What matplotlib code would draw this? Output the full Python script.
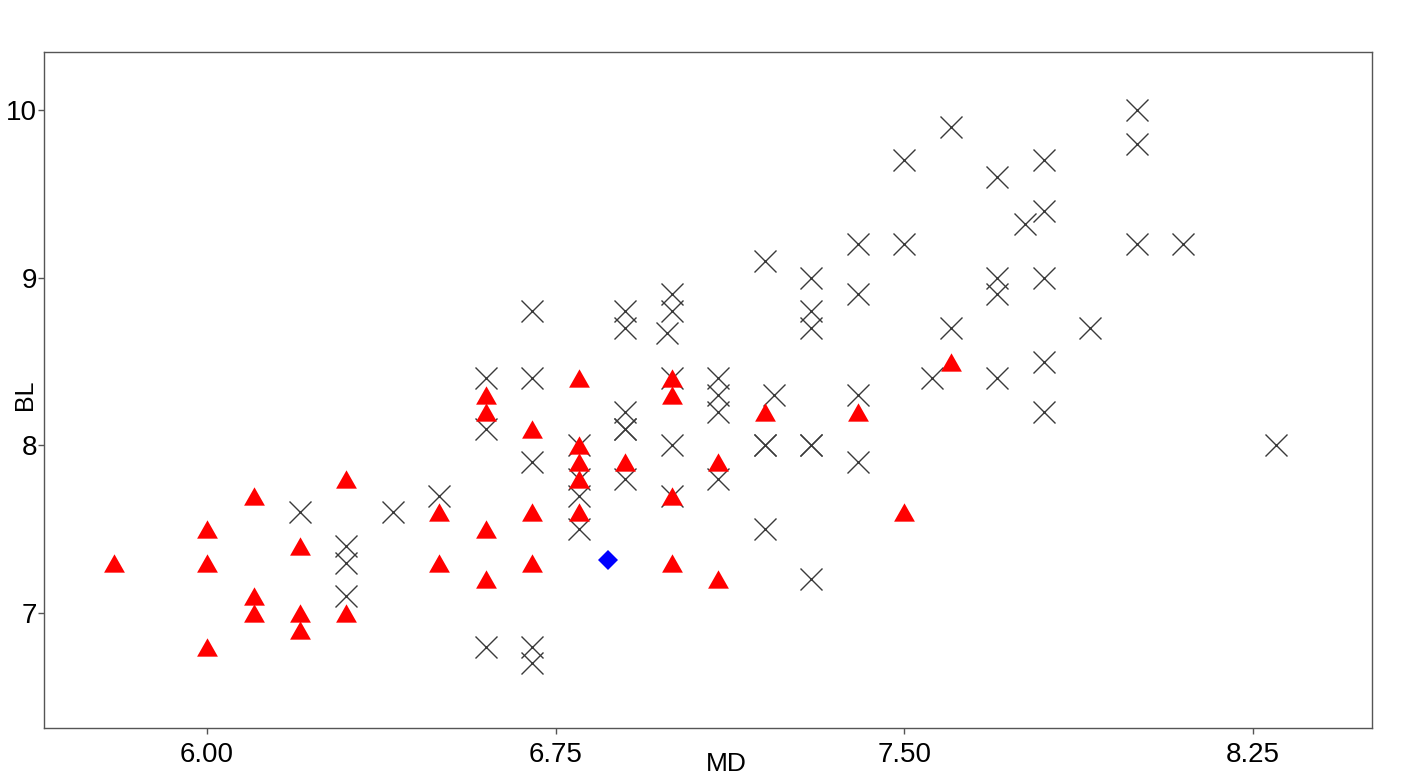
import matplotlib
matplotlib.use('Agg')
import matplotlib.pyplot as plt
from matplotlib.ticker import FormatStrFormatter

plt.rcParams['font.family'] = ['Liberation Sans', 'DejaVu Sans']

# group shown with crosses
cross_md = [6.2, 6.3, 6.3, 6.3, 6.4, 6.5,
            6.7, 6.9, 6.9, 7.0, 7.0, 6.99, 7.3, 7.3,
            6.6, 6.7, 7.0, 7.1, 7.1, 7.1, 7.22,
            6.6, 6.9, 6.9, 6.9,
            6.8, 7.0, 7.2, 7.2, 7.3, 7.3,
            6.7, 6.8, 6.8, 6.8, 6.9, 7.0, 7.1, 7.2,
            6.6, 6.7, 6.7, 7.3,
            8.0, 8.0, 7.6, 7.5, 7.8, 7.7, 7.8, 7.76,
            7.4, 7.5, 8.0, 8.1, 7.2, 7.3, 7.4,
            7.7, 7.7, 7.8, 7.6, 7.9, 7.8, 7.56, 7.7,
            7.8, 7.4, 7.4, 8.3]
cross_bl = [7.6, 7.4, 7.3, 7.1, 7.6, 7.7,
            8.8, 8.8, 8.7, 8.9, 8.8, 8.67, 8.8, 8.7,
            8.4, 8.4, 8.4, 8.4, 8.3, 8.2, 8.3,
            8.1, 8.2, 8.1, 8.1,
            8.0, 8.0, 8.0, 8.0, 8.0, 8.0,
            7.9, 7.8, 7.7, 7.5, 7.8, 7.7, 7.8, 7.5,
            6.8, 6.8, 6.7, 7.2,
            10.0, 9.8, 9.9, 9.7, 9.7, 9.6, 9.4, 9.32,
            9.2, 9.2, 9.2, 9.2, 9.1, 9.0, 8.9,
            9.0, 8.9, 9.0, 8.7, 8.7, 8.5, 8.4, 8.4,
            8.2, 8.3, 7.9, 8.0]

# group shown with triangles
tri_md = [5.8,
          6.0, 6.0, 6.0,
          6.1, 6.1, 6.1,
          6.2, 6.2, 6.2,
          6.3, 6.3,
          6.5, 6.5,
          6.6, 6.6, 6.6, 6.6,
          6.7, 6.7, 6.7,
          6.8, 6.8, 6.8, 6.8, 6.8,
          6.9,
          7.0, 7.0, 7.0, 7.0,
          7.1, 7.1,
          7.2, 7.4, 7.5, 7.6]
tri_bl = [7.3,
          7.5, 7.3, 6.8,
          7.7, 7.1, 7.0,
          7.4, 7.0, 6.9,
          7.8, 7.0,
          7.6, 7.3,
          8.3, 8.2, 7.5, 7.2,
          8.1, 7.6, 7.3,
          8.4, 8.0, 7.9, 7.8, 7.6,
          7.9,
          8.4, 8.3, 7.7, 7.3,
          7.9, 7.2,
          8.2, 8.2, 7.6, 8.5]

# single highlighted point
point_md = [6.862]
point_bl = [7.316]

xticks = [6.00, 6.75, 7.50, 8.25]
yticks = [7, 8, 9, 10]

fig = plt.figure(figsize=(14.17, 7.83), dpi=100)
ax = fig.add_axes([0.031, 0.0702, 0.937, 0.8634])

ax.plot(cross_md, cross_bl, linestyle='none', marker='x', markersize=16,
        markeredgewidth=1.0, color='#3a3a3a')
tri = [(-1, -0.88), (1, -0.88), (0, 0.88), (-1, -0.88)]
ax.plot(tri_md, tri_bl, linestyle='none', marker=tri, markersize=15,
        color='#ff0000', markeredgewidth=0)
ax.plot(point_md, point_bl, linestyle='none', marker='D', markersize=10.5,
        color='#0000ff', markeredgewidth=0)

ax.set_xlim(5.649, 8.506)
ax.set_ylim(6.314, 10.346)
ax.set_xticks(xticks)
ax.set_yticks(yticks)
ax.xaxis.set_major_formatter(FormatStrFormatter('%.2f'))

for s in ax.spines.values():
    s.set_color('#555555')
    s.set_linewidth(1.0)
ax.tick_params(axis='both', direction='out', length=4, width=1, color='#555555')
ax.tick_params(axis='y', pad=1)
ax.tick_params(axis='x', pad=6)
for lbl in ax.get_xticklabels():
    lbl.set_fontsize(20)
for lbl in ax.get_yticklabels():
    lbl.set_fontsize(20)

ax.set_xlabel('MD', fontsize=19)
ax.xaxis.set_label_coords(0.514, -0.035)
ax.set_ylabel('BL', fontsize=18, va='center')
ax.yaxis.set_label_coords(-0.0143, 0.4926)

fig.savefig('out.png', dpi=100)
